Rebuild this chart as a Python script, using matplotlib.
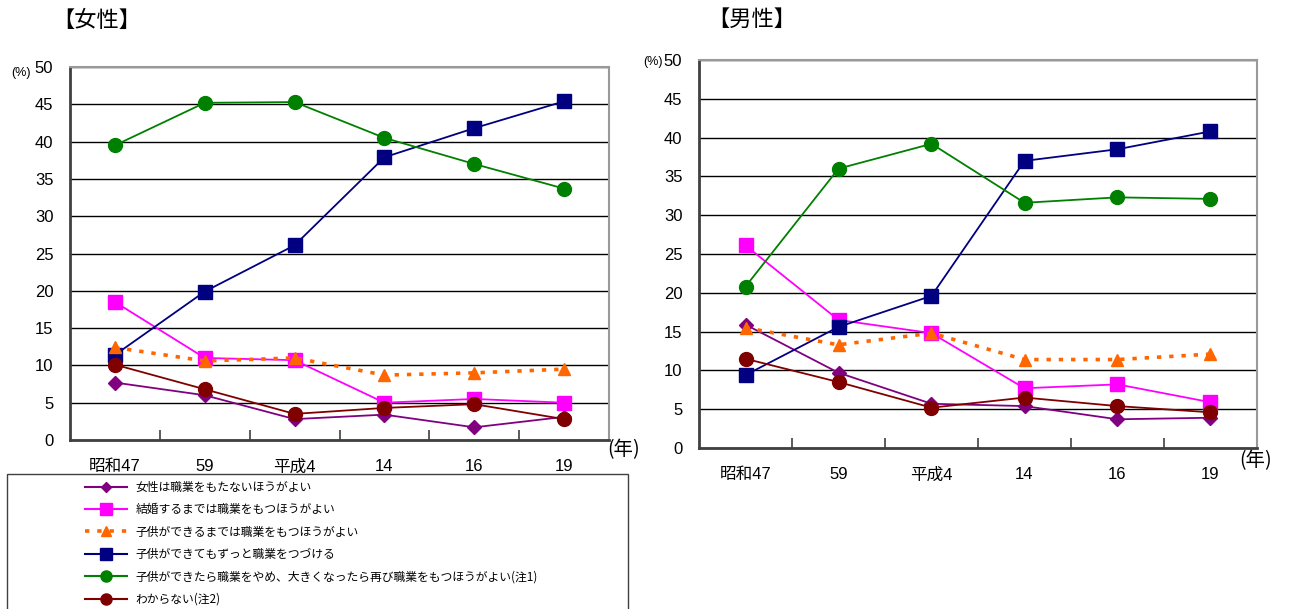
import numpy as np
import matplotlib
matplotlib.use("Agg")
import matplotlib.pyplot as plt
from matplotlib.patches import Rectangle
from matplotlib.lines import Line2D

plt.rcParams['font.family'] = ['Liberation Sans', 'Noto Sans CJK JP', 'DejaVu Sans']

# x categories
years = ['昭和47', '59', '平成4', '14', '16', '19']

labels = ['女性は職業をもたないほうがよい',
          '結婚するまでは職業をもつほうがよい',
          '子供ができるまでは職業をもつほうがよい',
          '子供ができてもずっと職業をつづける',
          '子供ができたら職業をやめ、大きくなったら再び職業をもつほうがよい(注1)',
          'わからない(注2)']

# women
f_none = [7.7, 6.0, 2.8, 3.4, 1.7, 3.1]
f_marry = [18.5, 11.0, 10.7, 5.0, 5.5, 5.0]
f_child = [12.4, 10.6, 11.0, 8.7, 9.0, 9.5]
f_keep = [11.4, 19.9, 26.1, 37.9, 41.8, 45.4]
f_again = [39.5, 45.2, 45.3, 40.5, 37.0, 33.7]
f_unknown = [10.1, 6.8, 3.5, 4.3, 4.8, 2.8]

# men
m_none = [15.9, 9.7, 5.7, 5.4, 3.7, 3.9]
m_marry = [26.1, 16.5, 14.8, 7.7, 8.2, 5.9]
m_child = [15.5, 13.3, 14.8, 11.4, 11.4, 12.1]
m_keep = [9.4, 15.6, 19.6, 37.0, 38.5, 40.8]
m_again = [20.8, 36.0, 39.2, 31.6, 32.3, 32.1]
m_unknown = [11.5, 8.5, 5.2, 6.5, 5.4, 4.6]

colors = ['#800080', '#FF00FF', '#FF6600', '#000080', '#008000', '#800000']
markers = ['D', 's', '^', 's', 'o', 'o']
msizes = [7, 10, 9, 10, 10, 10]
styles = ['-', '-', (0, (1.2, 2.2)), '-', '-', '-']
widths = [1.3, 1.3, 2.6, 1.3, 1.3, 1.3]

fig = plt.figure(figsize=(12.9, 6.09), dpi=100)
W, H = 1290, 609


def draw(rect, series, title, title_xy, pct_xy, nen_xy):
    x0, y0, x1, y1 = rect
    ax = fig.add_axes([x0 / W, (H - y1) / H, (x1 - x0) / W, (y1 - y0) / H])
    x = np.arange(len(years))
    for i, vals in enumerate(series):
        ax.plot(x, vals, color=colors[i], marker=markers[i], markersize=msizes[i],
                linestyle=styles[i], linewidth=widths[i], zorder=3 + (i == 2))
    ax.set_xlim(-0.5, 5.5)
    ax.set_ylim(0, 50)
    ax.set_yticks(np.arange(0, 51, 5))
    ax.grid(axis='y', color='black', linewidth=1.0)
    ax.set_axisbelow(True)
    ax.set_xticks(x)
    ax.set_xticklabels(years)
    ax.set_xticks(np.arange(0.5, 5, 1), minor=True)
    ax.tick_params(axis='x', which='major', length=0, pad=14, labelsize=12)
    ax.tick_params(axis='x', which='minor', direction='in', length=7, width=1.2, color='#404040')
    ax.tick_params(axis='y', length=0, pad=12, labelsize=12)
    for s in ['left', 'bottom']:
        ax.spines[s].set_color('#404040')
        ax.spines[s].set_linewidth(2)
    for s in ['top', 'right']:
        ax.spines[s].set_color('#999999')
        ax.spines[s].set_linewidth(1.5)
    fig.text(title_xy[0] / W, 1 - title_xy[1] / H, title, fontsize=16,
             ha='left', va='center', family=['Noto Sans CJK JP'])
    fig.text(pct_xy[0] / W, 1 - pct_xy[1] / H, '(%)', fontsize=9, ha='center', va='center')
    fig.text(nen_xy[0] / W, 1 - nen_xy[1] / H, '(年)', fontsize=14, ha='center', va='center',
             family=['Noto Sans CJK JP'])
    return ax


draw((70, 67, 609, 440), [f_none, f_marry, f_child, f_keep, f_again, f_unknown],
     '【女性】', (52, 20), (21, 73), (624, 450))
draw((699, 60, 1257, 448), [m_none, m_marry, m_child, m_keep, m_again, m_unknown],
     '【男性】', (707, 19), (653, 62), (1256, 461))

# legend box (runs off the bottom edge like the source)
fig.patches.append(Rectangle((7 / W, -0.05), (628 - 7) / W, (0.05 + (H - 474) / H),
                             transform=fig.transFigure, facecolor='white',
                             edgecolor='#404040', linewidth=1.0))
handles = [Line2D([], [], color=colors[i], marker=markers[i], markersize=msizes[i] * 0.8,
                  linestyle=styles[i], linewidth=widths[i] if i == 2 else 1.5)
           for i in range(6)]
fig.legend(handles, labels, loc='upper left', bbox_to_anchor=(80 / W, 1 - 476 / H),
           frameon=False, handlelength=3.6, labelspacing=0.8,
           handletextpad=0.7, borderaxespad=0, prop={'family': ['Noto Sans CJK JP'], 'size': 8.5})

fig.savefig('out.png', dpi=100)
